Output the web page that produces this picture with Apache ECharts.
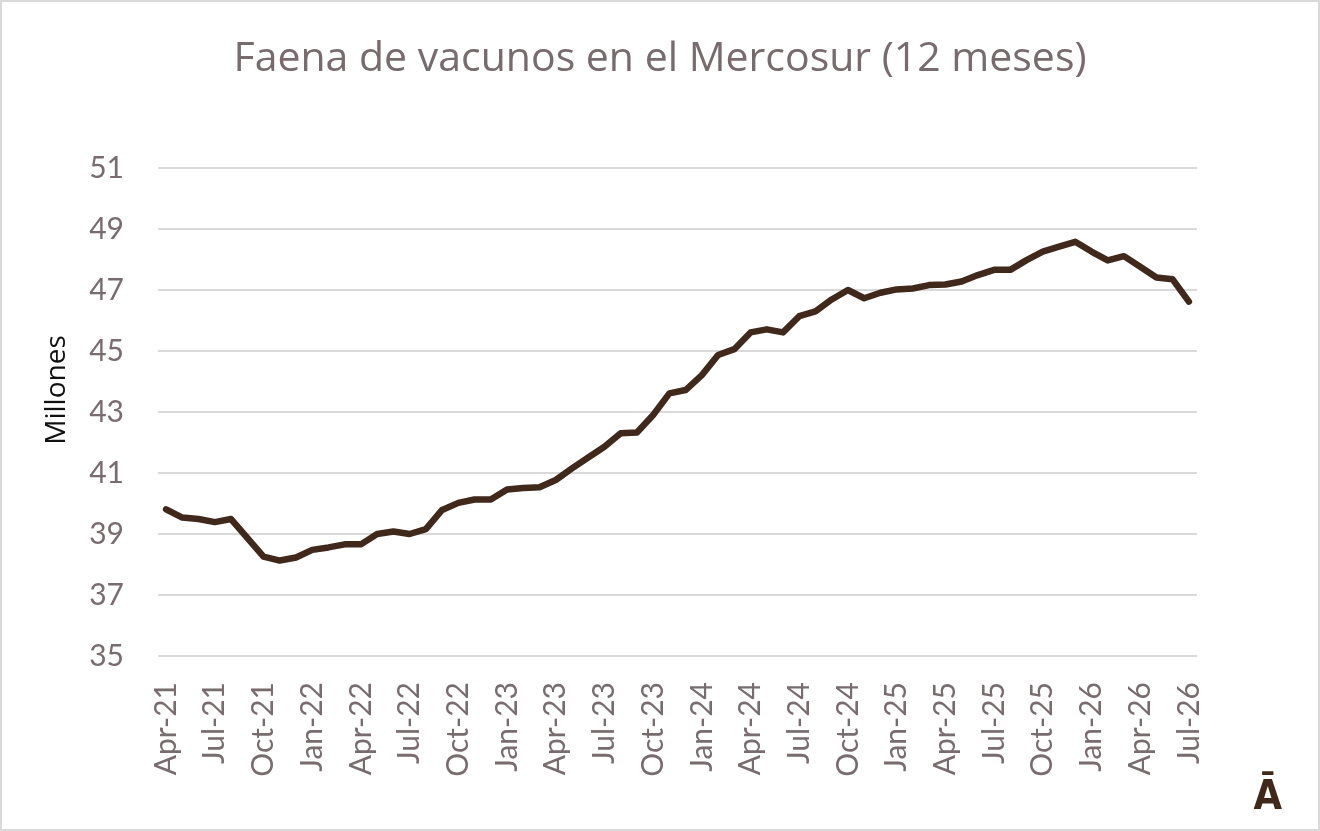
<!DOCTYPE html>
<html>
<head>
<meta charset="utf-8">
<script src="https://cdn.jsdelivr.net/npm/echarts@6/dist/echarts.min.js"></script>
<style>
  html, body { margin:0; padding:0; background:#fff; }
  #chart { width:1320px; height:831px; box-sizing:border-box; border:2px solid #d9d9d9; }
</style>
</head>
<body>
<div id="chart"></div>
<script>
// Month labels Apr-21 .. Jul-26
const months = ["Apr-21","May-21","Jun-21","Jul-21","Aug-21","Sep-21","Oct-21","Nov-21","Dec-21",
  "Jan-22","Feb-22","Mar-22","Apr-22","May-22","Jun-22","Jul-22","Aug-22","Sep-22","Oct-22","Nov-22","Dec-22",
  "Jan-23","Feb-23","Mar-23","Apr-23","May-23","Jun-23","Jul-23","Aug-23","Sep-23","Oct-23","Nov-23","Dec-23",
  "Jan-24","Feb-24","Mar-24","Apr-24","May-24","Jun-24","Jul-24","Aug-24","Sep-24","Oct-24","Nov-24","Dec-24",
  "Jan-25","Feb-25","Mar-25","Apr-25","May-25","Jun-25","Jul-25","Aug-25","Sep-25","Oct-25","Nov-25","Dec-25",
  "Jan-26","Feb-26","Mar-26","Apr-26","May-26","Jun-26","Jul-26"];

// Faena de vacunos, millones de cabezas (12 meses)
const faena = [39.81,39.54,39.49,39.39,39.49,38.87,38.26,38.13,38.23,
  38.48,38.56,38.66,38.66,39.00,39.08,39.00,39.16,39.79,40.02,40.13,40.13,
  40.46,40.51,40.53,40.77,41.15,41.51,41.86,42.30,42.33,42.90,43.61,43.72,
  44.21,44.87,45.06,45.61,45.71,45.61,46.14,46.30,46.69,47.00,46.73,46.91,
  47.02,47.05,47.16,47.18,47.28,47.49,47.66,47.66,47.98,48.26,48.42,48.58,
  48.26,47.97,48.11,47.76,47.41,47.35,46.62];

const yTicks = [35,37,39,41,43,45,47,49,51];

const labelColor = '#786c6e';
const chart = echarts.init(document.getElementById('chart'));
chart.setOption({
  animation: false,
  backgroundColor: '#ffffff',
  title: {
    text: 'Faena de vacunos en el Mercosur (12 meses)',
    left: 'center',
    top: 32,
    textStyle: { fontFamily: 'Open Sans', fontWeight: 'normal', fontSize: 41, color: '#776b6d' }
  },
  grid: { left: 156, right: 121, top: 166, bottom: 173 },
  xAxis: {
    type: 'category',
    data: months,
    boundaryGap: true,
    axisLine: { show: false },
    axisTick: { show: false },
    axisLabel: {
      interval: 2,
      rotate: 90,
      margin: 26,
      fontFamily: 'Lato',
      fontSize: 30,
      color: labelColor
    },
    splitLine: { show: false }
  },
  yAxis: {
    type: 'value',
    min: yTicks[0],
    max: yTicks[yTicks.length - 1],
    interval: 2,
    axisLine: { show: false },
    axisTick: { show: false },
    axisLabel: { margin: 34, fontFamily: 'Lato', fontSize: 30, color: labelColor },
    splitLine: { lineStyle: { color: '#d9d9d9', width: 2 } }
  },
  series: [{
    type: 'line',
    data: faena,
    showSymbol: false,
    lineStyle: { color: '#40291b', width: 6.5, cap: 'round', join: 'round' },
    itemStyle: { color: '#40291b' }
  }],
  graphic: [{
    type: 'text',
    x: 55,
    y: 388,
    rotation: Math.PI / 2,
    style: { text: 'Millones', font: '28px "Open Sans"', fill: '#111111', textAlign: 'center', textVerticalAlign: 'middle' }
  }, {
    type: 'text',
    right: 36,
    bottom: 10,
    style: { text: 'Ā', font: 'bold 41px "DejaVu Sans Condensed", "DejaVu Sans"', fill: '#40291b' }
  }]
});
</script>
</body>
</html>
